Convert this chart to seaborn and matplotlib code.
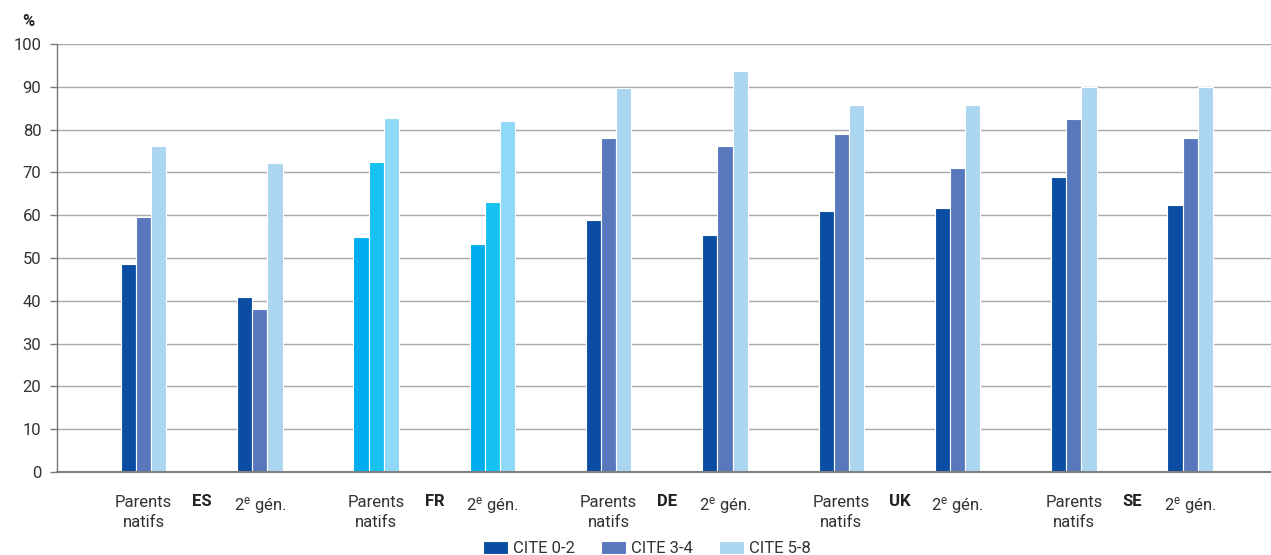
import matplotlib
matplotlib.use("Agg")
import matplotlib.pyplot as plt
from matplotlib import font_manager
from matplotlib.transforms import blended_transform_factory
import pandas as pd
import seaborn as sns

# Data: share (%) by education level, children of native parents vs. second generation
countries = ["ES", "FR", "DE", "UK", "SE"]
origins = ["Parents\nnatifs", "2$^{\\mathrm{e}}$ gén."]
levels = ["CITE 0-2", "CITE 3-4", "CITE 5-8"]

cite_0_2 = [48.5, 41.0, 55.0, 53.2, 58.8, 55.3, 61.0, 61.8, 68.9, 62.5]
cite_3_4 = [59.6, 38.1, 72.5, 63.0, 78.0, 76.2, 79.0, 71.0, 82.4, 78.0]
cite_5_8 = [76.2, 72.1, 82.8, 82.1, 89.8, 93.6, 85.7, 85.7, 90.0, 90.0]

palette = ["#0b4da2", "#5878be", "#acd6f0"]
highlight_country = "FR"
highlight_palette = ["#00aeef", "#17c2f3", "#8ed8f8"]

sns.set_theme(style="white")
available = {f.name for f in font_manager.fontManager.ttflist}
base_font = "Liberation Sans Narrow" if "Liberation Sans Narrow" in available else "Roboto"
plt.rcParams["font.family"] = [base_font, "DejaVu Sans"]
plt.rcParams["mathtext.fontset"] = "custom"
plt.rcParams["mathtext.rm"] = base_font
plt.rcParams["mathtext.it"] = base_font
plt.rcParams["mathtext.bf"] = base_font

groups = [f"{c}|{o}" for c in countries for o in origins]
rows = []
for lvl, vals in zip(levels, [cite_0_2, cite_3_4, cite_5_8]):
    for g, v in zip(groups, vals):
        rows.append({"group": g, "level": lvl, "value": v})
df = pd.DataFrame(rows)

fig = plt.figure(figsize=(12.71, 5.55), dpi=100)
ax = fig.add_axes([0.0445, 0.1495, 0.9555, 0.7712])

sns.barplot(data=df, x="group", y="value", hue="level", order=groups,
            hue_order=levels, palette=palette, width=0.39, dodge=True,
            saturation=1, edgecolor="white", linewidth=0.8, ax=ax,
            errorbar=None, legend=True)

# Recolour the highlighted country's bars
for li, container in enumerate(ax.containers):
    for gi, bar in enumerate(container):
        if groups[gi].split("|")[0] == highlight_country:
            bar.set_facecolor(highlight_palette[li])

ax.set_xlim(-0.748, 9.695)
ax.set_ylim(0, 100)
ax.set_yticks(range(0, 101, 10))
ax.yaxis.grid(True, color="#a8a8a8", linewidth=1.0)
ax.set_axisbelow(True)
ax.tick_params(axis="y", left=True, length=5, width=1, color="#777777",
               labelsize=12, labelcolor="#333333", pad=6)
ax.set_xticks(range(len(groups)))
ax.set_xticklabels([g.split("|")[1] for g in groups], fontsize=12,
                   color="#333333", linespacing=1.4)
ax.tick_params(axis="x", bottom=False, pad=10.5)
ax.set_xlabel("")
ax.set_ylabel("")
for s in ["top", "right"]:
    ax.spines[s].set_visible(False)
ax.spines["left"].set_color("#777777")
ax.spines["left"].set_linewidth(1.0)
ax.spines["bottom"].set_color("#808080")
ax.spines["bottom"].set_linewidth(1.5)

trans = blended_transform_factory(ax.transData, ax.transAxes)
for ci, c in enumerate(countries):
    ax.text(2 * ci + 0.5, -0.0678, c, transform=trans, ha="center", va="center",
            fontsize=12, fontweight="bold", color="#222222")

fig.text(28 / 1271, 1 - 22 / 555, "%", ha="center", va="center",
         fontsize=12, fontweight="bold", color="#222222")

handles, labels = ax.get_legend_handles_labels()
ax.legend_.remove()
fig.legend(handles, labels, loc="center", bbox_to_anchor=(0.509, 0.012),
           ncol=3, frameon=False, fontsize=12, handlelength=1.5,
           handleheight=0.8, handletextpad=0.3, columnspacing=1.55,
           labelcolor="#333333")

fig.savefig("out.png", dpi=100)
